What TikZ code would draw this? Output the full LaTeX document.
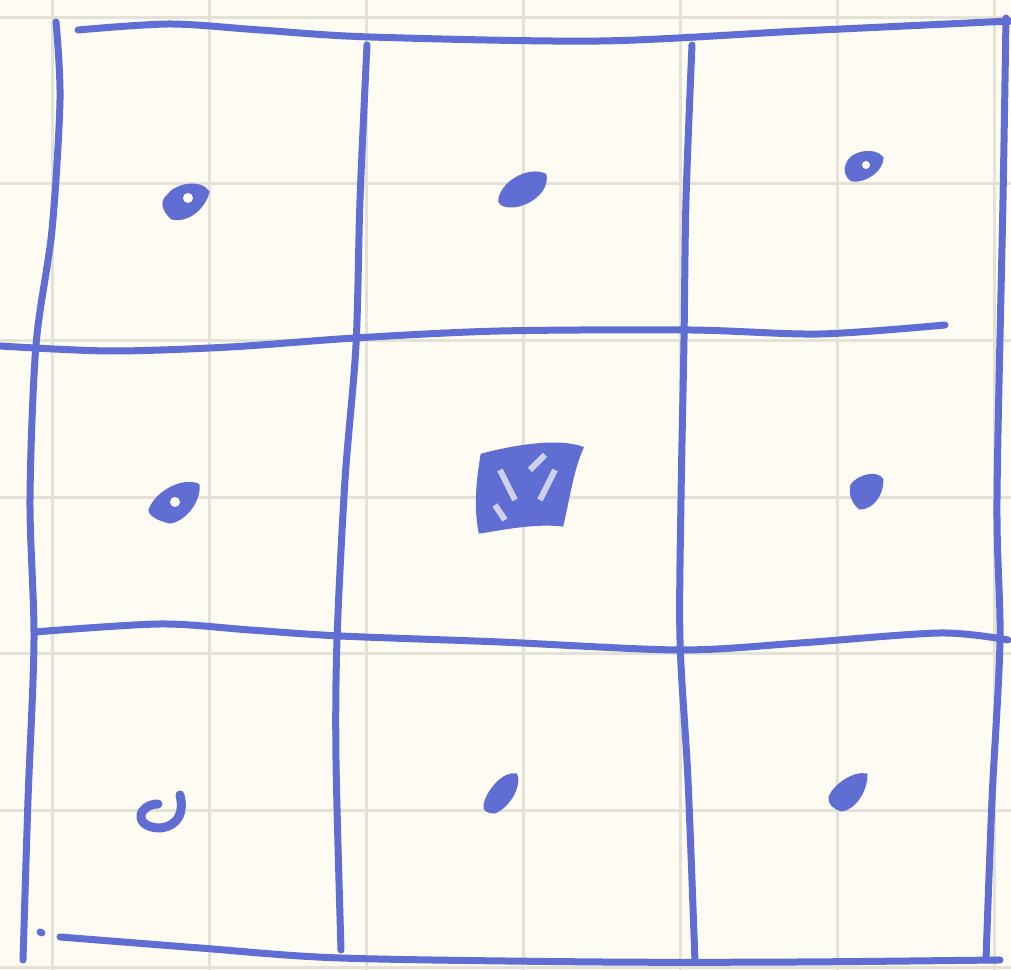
\documentclass[tikz,border=0pt]{standalone}
\definecolor{paper}{RGB}{253,251,242}
\definecolor{faint}{RGB}{228,225,215}
\definecolor{ink}{RGB}{96,110,212}
\begin{document}
\begin{tikzpicture}[x=0.1mm,y=-0.1mm,
  gridline/.style={draw=faint,line width=0.3mm},
  penline/.style={draw=ink,line width=0.7mm,line cap=round,line join=round},
  blob/.style={fill=ink,draw=ink,line width=0.3mm}]
\fill[paper] (0,0) rectangle (1011,970);
\useasboundingbox (0,0) rectangle (1011,970);
% faint paper grid
\foreach \x in {53,210,367,524,681,838,995} \draw[gridline] (\x,0) -- (\x,970);
\foreach \y in {18,184,341,498,654,811,968} \draw[gridline] (0,\y) -- (1011,\y);
% horizontal pen lines
\draw[penline] plot[smooth] coordinates {(78,30) (170,24) (260,30) (370,37) (600,41) (800,31) (1011,21)};
\draw[penline] plot[smooth] coordinates {(0,346) (110,351) (230,347) (355,338) (500,331) (690,330) (820,334) (945,325)};
\draw[penline] plot[smooth] coordinates {(35,632) (160,624) (250,630) (340,636) (500,642) (680,650) (800,643) (940,633) (1008,640)};
\draw[penline] (40,932) -- (42,933);
\draw[penline] plot[smooth] coordinates {(60,937) (200,948) (340,958) (600,962) (800,962) (1000,960)};
% vertical pen lines
\draw[penline] plot[smooth] coordinates {(56,22) (60,100) (52,230) (36,345) (30,500) (34,640) (28,800) (23,960)};
\draw[penline] plot[smooth] coordinates {(367,45) (360,200) (356,345) (345,480) (337,640) (336,760) (341,950)};
\draw[penline] plot[smooth] coordinates {(692,45) (686,200) (684,340) (681,500) (680,640) (688,780) (695,962)};
\draw[penline] plot[smooth] coordinates {(1006,18) (1003,200) (997,500) (1000,640) (992,800) (986,960)};
% dots
\draw[blob] (168,196) .. controls (175,185) and (200,180) .. (208,192) .. controls (205,205) and (190,222) .. (172,218) .. controls (165,212) and (160,202) .. (168,196) -- cycle;
\fill[paper] (188,198) circle (5);
\draw[blob] (500,198) .. controls (505,180) and (530,168) .. (545,175) .. controls (548,190) and (530,205) .. (512,206) .. controls (503,206) and (498,203) .. (500,198) -- cycle;
\draw[blob] (847,165) .. controls (850,152) and (875,148) .. (882,158) .. controls (882,170) and (865,182) .. (852,180) .. controls (846,176) and (845,170) .. (847,165) -- cycle;
\fill[paper] (866,165) circle (4);
\draw[blob] (150,510) .. controls (155,495) and (180,478) .. (198,485) .. controls (200,500) and (185,520) .. (170,522) .. controls (160,520) and (150,515) .. (150,510) -- cycle;
\fill[paper] (175,502) circle (5);
\draw[blob] (482,455) .. controls (520,445) and (560,440) .. (582,448) .. controls (572,470) and (568,500) .. (562,525) .. controls (535,522) and (505,528) .. (480,532) .. controls (475,505) and (478,480) .. (482,455) -- cycle;
\draw[draw=paper!70!ink,line width=0.6mm] (500,470) -- (515,500) (530,470) -- (545,455) (540,500) -- (555,470) (495,505) -- (505,520);
\draw[blob] (852,485) .. controls (860,475) and (878,472) .. (882,480) .. controls (882,495) and (872,508) .. (860,508) .. controls (852,502) and (850,492) .. (852,485) -- cycle;
\draw[draw=ink,line width=0.9mm,line cap=round] (180,795) .. controls (184,810) and (180,826) .. (160,828) .. controls (145,828) and (138,820) .. (142,812) .. controls (146,806) and (152,804) .. (158,804);
\draw[blob] (485,805) .. controls (488,790) and (505,772) .. (516,775) .. controls (520,785) and (510,805) .. (495,812) .. controls (488,812) and (484,810) .. (485,805) -- cycle;
\draw[blob] (830,797) .. controls (835,785) and (855,772) .. (866,775) .. controls (866,790) and (855,808) .. (842,810) .. controls (834,808) and (829,803) .. (830,797) -- cycle;
\end{tikzpicture}
\end{document}
